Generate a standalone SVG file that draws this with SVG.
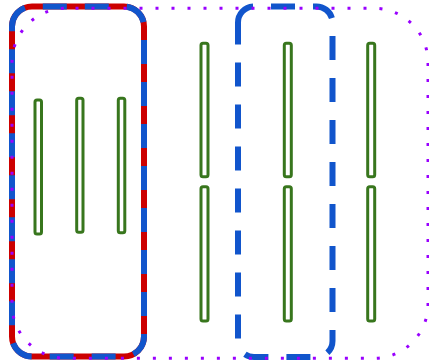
<svg xmlns="http://www.w3.org/2000/svg" width="429" height="362" viewBox="0 0 429 362">
  <style>
    .bar { fill: #ffffff; stroke: #38761d; stroke-width: 3; }
    .frame { fill: none; }
    .red-solid { stroke: #cc0000; stroke-width: 6; }
    .blue-dash { stroke: #1155cc; stroke-width: 6; stroke-dasharray: 24 18; }
    .purple-dots { stroke: #9900ff; stroke-width: 3; stroke-dasharray: 3 13; }
  </style>
  <rect width="429" height="362" fill="#ffffff"/>

  <!-- left container: red under blue dashes (path starts at the top-left arc) -->
  <g id="group-left">
    <path class="frame red-solid" d="M12,26.5 A20,20 0 0 1 32,6.5 H124 A20,20 0 0 1 144,26.5 V336.5 A20,20 0 0 1 124,356.5 H32 A20,20 0 0 1 12,336.5 Z"/>
    <path class="frame blue-dash" d="M12,26.5 A20,20 0 0 1 32,6.5 H124 A20,20 0 0 1 144,26.5 V336.5 A20,20 0 0 1 124,356.5 H32 A20,20 0 0 1 12,336.5 Z"/>
  </g>

  <!-- middle container: blue dashed -->
  <g id="group-middle">
    <path class="frame blue-dash" stroke-width="5.5" d="M238,22.5 A16,16 0 0 1 254,6.5 H316.5 A16,16 0 0 1 332.5,22.5 V341 A16,16 0 0 1 316.5,357 H254 A16,16 0 0 1 238,341 Z"/>
  </g>

  <!-- outer container: purple dotted -->
  <g id="group-outer">
    <rect class="frame purple-dots" x="12" y="8.3" width="416" height="350" rx="54" stroke-dashoffset="-9.5"/>
  </g>

  <!-- bars -->
  <g id="bar-1"><rect class="bar" x="35" y="100" width="6.5" height="134" rx="2"/></g>
  <g id="bar-2"><rect class="bar" x="76.7" y="98.3" width="6.3" height="134" rx="2"/></g>
  <g id="bar-3"><rect class="bar" x="118.3" y="98.3" width="6.5" height="134.5" rx="2"/></g>

  <g id="bar-4"><rect class="bar" x="201" y="43.3" width="7" height="133.4" rx="2"/></g>
  <g id="bar-5"><rect class="bar" x="201" y="186.7" width="7" height="134.3" rx="2"/></g>
  <g id="bar-6"><rect class="bar" x="284.3" y="43.3" width="7" height="133.4" rx="2"/></g>
  <g id="bar-7"><rect class="bar" x="284.3" y="186.7" width="7" height="134.3" rx="2"/></g>
  <g id="bar-8"><rect class="bar" x="367.7" y="43.3" width="7" height="133.4" rx="2"/></g>
  <g id="bar-9"><rect class="bar" x="367.7" y="186.7" width="7" height="134.3" rx="2"/></g>

  <g id="connectors"/>
</svg>
